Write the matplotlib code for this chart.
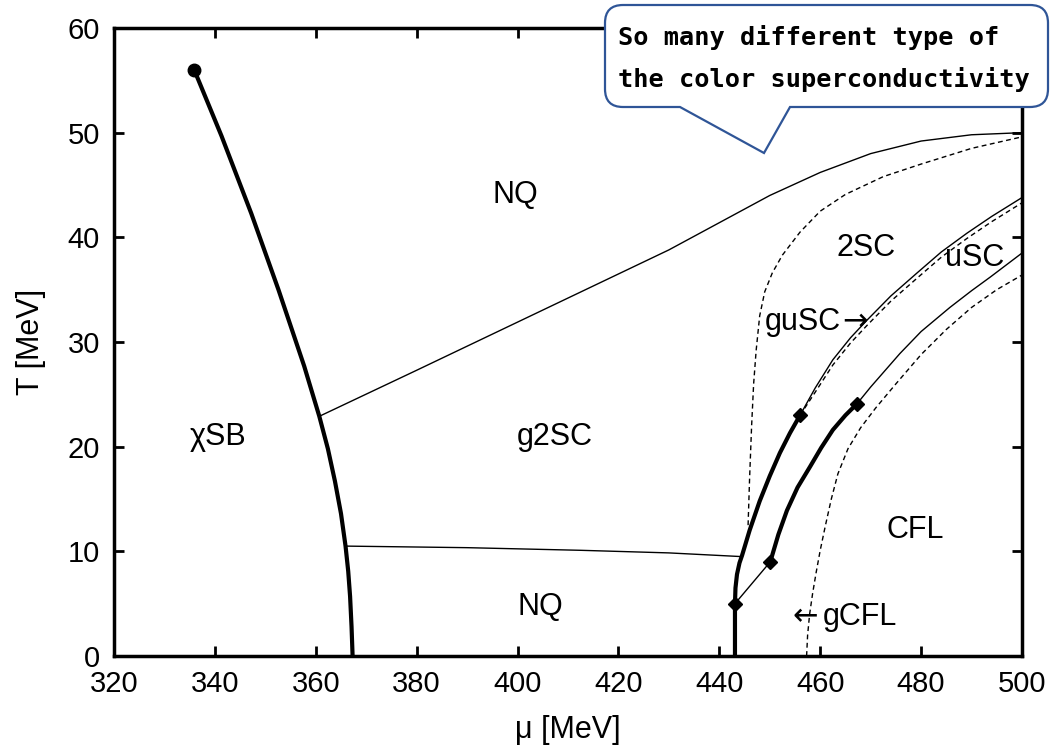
#!/usr/bin/env python3
"""QCD phase diagram (T vs mu) with the colour-superconducting phases and a callout."""

import matplotlib

matplotlib.use("Agg")
import matplotlib.pyplot as plt
from matplotlib.patches import PathPatch
from matplotlib.path import Path

# chiral (chiSB) boundary, thick
chi_mu = [335.9, 341.3, 347.2, 352.6, 357.7, 360.7, 362.4, 363.8, 365.0, 365.9, 366.43,
          366.8, 367.09, 367.3]
chi_T = [56.0, 49.7, 42.3, 35.0, 27.7, 22.9, 19.8, 16.7, 13.6, 10.5, 8.1, 5.7, 2.8, 0.0]

# NQ / g2SC upper boundary
up_mu = [360.7, 380.0, 400.0, 420.0, 430.0, 440.0, 450.0, 460.0, 470.0, 480.0, 490.0, 500.0]
up_T = [22.9, 27.3, 31.9, 36.5, 38.8, 41.4, 44.0, 46.2, 48.0, 49.2, 49.8, 50.0]

# g2SC / NQ lower boundary
low_mu = [365.9, 390.0, 412.4, 430.0, 444.3]
low_T = [10.5, 10.35, 10.1, 9.85, 9.5]

# first-order lines (thick)
fo1_mu = [443.1, 443.1, 443.2, 443.5, 444.0, 444.5, 446.0, 448.0, 450.0, 452.0, 454.0, 456.0]
fo1_T = [0.0, 5.0, 6.5, 7.8, 8.9, 9.6, 12.0, 14.8, 17.2, 19.4, 21.3, 23.0]
fo2_mu = [450.1, 451.7, 453.4, 455.5, 458.0, 460.2, 462.5, 465.0, 467.3]
fo2_T = [9.0, 11.6, 13.9, 16.1, 18.1, 19.9, 21.6, 23.0, 24.1]

# thin second-order lines
link_mu = [443.1, 450.1]
link_T = [5.0, 9.0]
usc_mu = [467.3, 470.0, 475.8, 480.0, 485.7, 490.0, 493.7, 500.0]
usc_T = [24.1, 25.7, 28.9, 31.0, 33.3, 34.9, 36.2, 38.5]
two_mu = [456.0, 459.0, 462.5, 466.0, 469.3, 474.0, 479.2, 484.0, 489.1, 494.0, 500.0]
two_T = [23.0, 25.6, 28.3, 30.4, 32.1, 34.4, 36.6, 38.6, 40.4, 42.0, 43.8]

# dashed (gapless) lines
gu_mu = [456.0, 459.0, 462.5, 466.0, 469.3, 474.0, 479.2, 484.0, 489.1, 494.0, 500.0]
gu_T = [23.0, 25.2, 27.8, 29.9, 31.6, 33.9, 36.1, 38.1, 39.9, 41.5, 43.3]
gcfl_mu = [457.3, 457.5, 457.9, 458.5, 459.2, 460.0, 461.0, 462.2, 463.5, 465.5, 468.0, 471.0,
           475.0, 480.0, 485.0, 490.0, 495.0, 500.0]
gcfl_T = [0.0, 2.0, 4.0, 6.0, 8.0, 10.1, 12.4, 15.0, 17.4, 19.8, 21.8, 23.7, 26.0, 28.8, 31.2,
          33.3, 35.0, 36.4]
g2sc_mu = [445.7, 446.0, 446.4, 446.8, 447.3, 448.0, 449.0, 450.5, 452.5, 456.0, 460.0, 465.0,
           472.5, 480.0, 490.0, 500.0]
g2sc_T = [12.5, 17.0, 22.0, 26.0, 29.2, 32.5, 34.8, 36.6, 38.3, 40.5, 42.5, 44.1, 45.8, 47.0,
          48.5, 49.6]

end_mu = [335.9]
end_T = [56.0]
tri_mu = [443.1, 456.0, 450.1, 467.3]
tri_T = [5.0, 23.0, 9.0, 24.1]

# phase names centred on their regions
labels = ["NQ", "2SC", "uSC", "\u03c7SB", "g2SC", "NQ", "CFL"]
label_mu = [399.5, 469.1, 490.7, 340.6, 407.4, 404.5, 478.8]
label_T = [44.0, 39.0, 38.0, 20.9, 20.9, 4.7, 12.0]

# labels with arrows, left-aligned pieces on a common baseline
arrow_labels = ["guSC", "\u2192", "\u2190", "gCFL"]
arrow_mu = [449.0, 464.3, 454.6, 460.6]
arrow_T = [31.1, 31.1, 3.0, 3.0]

callout = ["So many different type of", "the color superconductivity"]

W, H = 1051, 750
plt.rcParams["font.family"] = ["Liberation Sans", "DejaVu Sans"]

fig = plt.figure(figsize=(W / 100, H / 100), dpi=100)
ax = fig.add_axes([114 / W, 1 - 656 / H, (1022 - 114) / W, (656 - 28) / H])

thin = dict(color="black", lw=1.0)
dash = dict(color="black", lw=1.0, ls=(0, (3.5, 2.5)))
thick = dict(color="black", lw=3.0, solid_capstyle="butt", solid_joinstyle="round")

ax.plot(chi_mu, chi_T, **thick)
ax.plot(up_mu, up_T, **thin)
ax.plot(low_mu, low_T, **thin)
ax.plot(link_mu, link_T, **thin)
ax.plot(usc_mu, usc_T, **thin)
ax.plot(two_mu, two_T, **thin)
ax.plot(gu_mu, gu_T, **dash)
ax.plot(gcfl_mu, gcfl_T, **dash)
ax.plot(g2sc_mu, g2sc_T, **dash)
ax.plot(fo1_mu, fo1_T, **thick)
ax.plot(fo2_mu, fo2_T, **thick)
ax.plot(end_mu, end_T, "o", color="black", ms=9)
ax.plot(tri_mu, tri_T, "D", color="black", ms=7)

for s, m, t in zip(labels, label_mu, label_T):
    ax.text(m, t, s, ha="center", va="center", fontsize=22)
for s, m, t in zip(arrow_labels, arrow_mu, arrow_T):
    if s in ("\u2192", "\u2190"):
        ax.text(m, t, s, ha="left", va="baseline", fontsize=22, family="DejaVu Sans")
    else:
        ax.text(m, t, s, ha="left", va="baseline", fontsize=22)

ax.set_xlim(320, 500)
ax.set_ylim(0, 60)
ax.set_xticks(range(320, 501, 20))
ax.set_yticks(range(0, 61, 10))
ax.tick_params(direction="in", length=7, width=2, labelsize=21, top=True, right=True, pad=10)
for sp in ax.spines.values():
    sp.set_linewidth(2.5)
ax.set_xlabel("\u03bc [MeV]", fontsize=22, labelpad=12)
ax.set_ylabel("T [MeV]", fontsize=22, labelpad=16)

# speech-bubble callout in pixel coordinates (y measured from the top)
x0, x1, y0, y1, r = 605, 1048, 5, 107, 18
tail_l, tail_r, tip = 680, 790, (764, 153)
pts = [
    ((x0 + r, y0), Path.MOVETO),
    ((x1 - r, y0), Path.LINETO),
    ((x1, y0), Path.CURVE3), ((x1, y0 + r), Path.CURVE3),
    ((x1, y1 - r), Path.LINETO),
    ((x1, y1), Path.CURVE3), ((x1 - r, y1), Path.CURVE3),
    ((tail_r, y1), Path.LINETO),
    (tip, Path.LINETO),
    ((tail_l, y1), Path.LINETO),
    ((x0 + r, y1), Path.LINETO),
    ((x0, y1), Path.CURVE3), ((x0, y1 - r), Path.CURVE3),
    ((x0, y0 + r), Path.LINETO),
    ((x0, y0), Path.CURVE3), ((x0 + r, y0), Path.CURVE3),
    ((x0 + r, y0), Path.CLOSEPOLY),
]
verts = [(x / W, 1 - y / H) for (x, y), _ in pts]
codes = [c for _, c in pts]
bubble = PathPatch(Path(verts, codes), transform=fig.transFigure, facecolor="white",
                   edgecolor="#2F5597", lw=1.6, zorder=10)
fig.patches.append(bubble)
for i, line in enumerate(callout):
    fig.text(618 / W, 1 - (37 + 42 * i) / H, line, ha="left", va="center", fontsize=18.2,
             family="DejaVu Sans Mono", weight="bold", zorder=11)

fig.savefig("out.png", dpi=100)
